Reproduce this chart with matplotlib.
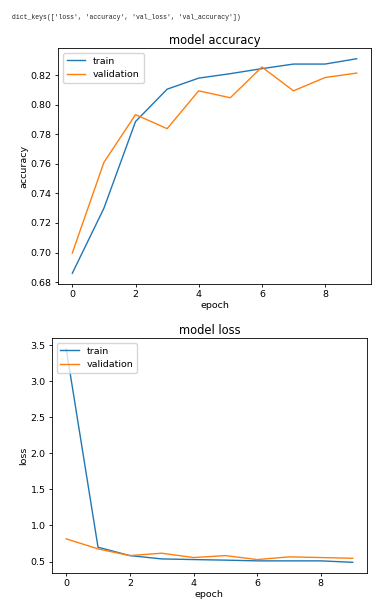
import matplotlib

matplotlib.use("Agg")
import matplotlib.pyplot as plt

epochs = list(range(10))
acc_train = [0.686, 0.730, 0.7886, 0.8105, 0.818, 0.821, 0.8244, 0.8275, 0.8275, 0.8311]
acc_val = [0.6997, 0.761, 0.7933, 0.7838, 0.8094, 0.8047, 0.8255, 0.8094, 0.8184, 0.8214]
loss_train = [3.45, 0.699, 0.583, 0.537, 0.528, 0.520, 0.510, 0.510, 0.510, 0.490]
loss_val = [0.815, 0.676, 0.583, 0.616, 0.556, 0.583, 0.528, 0.565, 0.556, 0.546]
series_names = ["train", "validation"]
header = "dict_keys(['loss', 'accuracy', 'val_loss', 'val_accuracy'])"

plt.rcParams["font.size"] = 6.8

fig = plt.figure(figsize=(3.9, 6.14), dpi=100)
fig.text(0.03, 0.971, header, family="Liberation Mono", fontsize=4.7,
         color="#222222", va="center")


def panel(rect, train, val, title, ylabel):
    ax = fig.add_axes(rect)
    ax.plot(epochs, train, lw=1.0, color="#1f77b4", label=series_names[0])
    ax.plot(epochs, val, lw=1.0, color="#ff7f0e", label=series_names[1])
    ax.set_title(title, fontsize=8.3, pad=3)
    ax.set_xlabel("epoch", labelpad=1)
    ax.set_ylabel(ylabel, labelpad=2)
    ax.tick_params(length=2.5, width=0.6, pad=2)
    for s in ax.spines.values():
        s.set_linewidth(0.6)
    ax.legend(loc="upper left", fontsize=6.8, handlelength=2.0)
    return ax


panel([0.149, 0.5375, 0.802, 0.3843], acc_train, acc_val, "model accuracy", "accuracy")
panel([0.133, 0.0668, 0.808, 0.3827], loss_train, loss_val, "model loss", "loss")

fig.savefig("out.png", dpi=100)
